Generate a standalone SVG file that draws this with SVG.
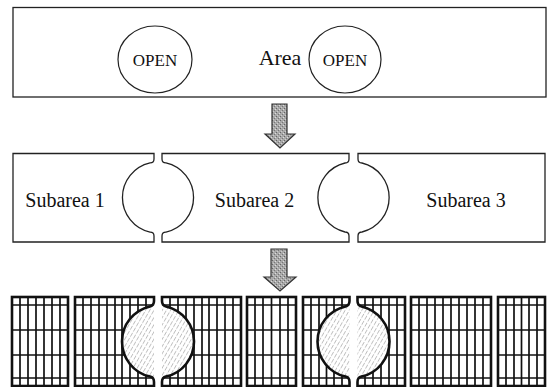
<svg xmlns="http://www.w3.org/2000/svg" width="552" height="387" viewBox="0 0 552 387">
<style>
.box{fill:#fff;stroke:#222;stroke-width:1.3}
.lbl{font-family:"Liberation Serif","Times New Roman",serif;fill:#111;text-anchor:middle}
.big{font-size:22px}
.sub{font-size:20px}
.open{font-size:17px}
.arrow{fill:url(#stip);stroke:#333;stroke-width:1.2}
.grid line{stroke:#111;stroke-width:1.7}
.panel{fill:none;stroke:#111;stroke-width:2.6}
.hat{fill:url(#hatch);stroke:none}
</style>
<defs>
<pattern id="hatch" width="3.6" height="6" patternUnits="userSpaceOnUse" patternTransform="rotate(30)">
<line x1="0" y1="0" x2="0" y2="4.5" stroke="#666" stroke-width="0.8"/>
</pattern>
<pattern id="stip" width="4" height="4" patternUnits="userSpaceOnUse">
<rect width="4" height="4" fill="#a8a8a8"/>
<rect x="0" y="0" width="1" height="1" fill="#666"/>
<rect x="2" y="2" width="1" height="1" fill="#777"/>
<rect x="3" y="1" width="1" height="1" fill="#ddd"/>
<rect x="1" y="3" width="1" height="1" fill="#ccc"/>
</pattern>
<clipPath id="c1"><rect x="12" y="297" width="56" height="89"/></clipPath>
<clipPath id="c2"><path d="M75,297 H154 V301 Q154,305.5 150,306.4 A36,36 0 0 0 150,376.6 Q154,377.5 154,382 V386 H75 Z"/></clipPath>
<clipPath id="c3"><path d="M162,297 H241 V386 H162 V382 Q162,377.5 166,376.6 A36,36 0 0 0 166,306.4 Q162,305.5 162,301 Z"/></clipPath>
<clipPath id="c4"><rect x="247" y="297" width="49" height="89"/></clipPath>
<clipPath id="c5"><path d="M303,297 H349.5 V301 Q349.5,305.5 345.5,306.4 A36,36 0 0 0 345.5,376.6 Q349.5,377.5 349.5,382 V386 H303 Z"/></clipPath>
<clipPath id="c6"><path d="M357.5,297 H405 V386 H357.5 V382 Q357.5,377.5 361.5,376.6 A36,36 0 0 0 361.5,306.4 Q357.5,305.5 357.5,301 Z"/></clipPath>
<clipPath id="c7"><rect x="411" y="297" width="80" height="89"/></clipPath>
<clipPath id="c8"><rect x="498" y="297" width="47" height="89"/></clipPath>
</defs>

<g id="area">
<rect class="box" x="13" y="7.5" width="533" height="89.5"/>
<ellipse cx="155" cy="59.5" rx="37" ry="33.5" fill="none" stroke="#222" stroke-width="1.2"/>
<text class="lbl open" x="155" y="65.5">OPEN</text>
<text class="lbl big" x="280" y="65">Area</text>
<ellipse cx="345" cy="59.5" rx="36" ry="33.5" fill="none" stroke="#222" stroke-width="1.2"/>
<text class="lbl open" x="345" y="65.5">OPEN</text>
</g>

<g id="subarea1">
<path class="box" d="M13,153.5 H154 V159 Q154,163 150,162.9 A35.5,35.5 0 0 0 150,232.1 Q154,232 154,236 V242 H13 Z"/>
<text class="lbl sub" x="65" y="207">Subarea 1</text>
</g>
<g id="subarea2">
<path class="box" d="M162,153.5 H349 V159 Q349,163 345,163 A35.5,35.5 0 0 0 345,232 Q349,232 349,236 V242 H162 V236 Q162,232 166,232.1 A35.5,35.5 0 0 0 166,162.9 Q162,163 162,159 Z"/>
<text class="lbl sub" x="254.5" y="207">Subarea 2</text>
</g>
<g id="subarea3">
<path class="box" d="M358,153.5 H545 V242 H358 V236 Q358,232 362,232 A35.5,35.5 0 0 0 362,163 Q358,163 358,159 Z"/>
<text class="lbl sub" x="466" y="207">Subarea 3</text>
</g>

<g id="connectors">
<polygon class="arrow" points="272,104 287,104 287,134 295,134 280,148 265,134 272,134"/>
<polygon class="arrow" points="271,249 287,249 287,277 296,277 280,291 264,277 271,277"/>
</g>

<g id="panel1">
<g class="grid" clip-path="url(#c1)">
<line x1="20" y1="297" x2="20" y2="386"/><line x1="28" y1="297" x2="28" y2="386"/><line x1="36" y1="297" x2="36" y2="386"/><line x1="44" y1="297" x2="44" y2="386"/><line x1="52" y1="297" x2="52" y2="386"/><line x1="60" y1="297" x2="60" y2="386"/>
<line x1="12" y1="305" x2="68" y2="305"/><line x1="12" y1="330" x2="68" y2="330"/><line x1="12" y1="355" x2="68" y2="355"/><line x1="12" y1="378" x2="68" y2="378"/>
</g>
<rect class="panel" x="12" y="297" width="56" height="89"/>
</g>

<g id="panel2">
<path class="hat" d="M154,305.7 A36,36 0 0 0 154,377.3 Z"/>
<g class="grid" clip-path="url(#c2)">
<line x1="83" y1="297" x2="83" y2="386"/><line x1="91" y1="297" x2="91" y2="386"/><line x1="99" y1="297" x2="99" y2="386"/><line x1="107" y1="297" x2="107" y2="386"/><line x1="115" y1="297" x2="115" y2="386"/><line x1="122" y1="297" x2="122" y2="386"/><line x1="130" y1="297" x2="130" y2="386"/><line x1="138" y1="297" x2="138" y2="386"/><line x1="146" y1="297" x2="146" y2="386"/>
<line x1="75" y1="305" x2="154" y2="305"/><line x1="75" y1="330" x2="154" y2="330"/><line x1="75" y1="355" x2="154" y2="355"/><line x1="75" y1="378" x2="154" y2="378"/>
</g>
<path class="panel" d="M75,297 H154 V301 Q154,305.5 150,306.4 A36,36 0 0 0 150,376.6 Q154,377.5 154,382 V386 H75 Z"/>
</g>

<g id="panel3">
<path class="hat" d="M162,377.3 A36,36 0 0 0 162,305.7 Z"/>
<g class="grid" clip-path="url(#c3)">
<line x1="170" y1="297" x2="170" y2="386"/><line x1="178" y1="297" x2="178" y2="386"/><line x1="186" y1="297" x2="186" y2="386"/><line x1="194" y1="297" x2="194" y2="386"/><line x1="202" y1="297" x2="202" y2="386"/><line x1="209" y1="297" x2="209" y2="386"/><line x1="217" y1="297" x2="217" y2="386"/><line x1="225" y1="297" x2="225" y2="386"/><line x1="233" y1="297" x2="233" y2="386"/>
<line x1="162" y1="305" x2="241" y2="305"/><line x1="162" y1="330" x2="241" y2="330"/><line x1="162" y1="355" x2="241" y2="355"/><line x1="162" y1="378" x2="241" y2="378"/>
</g>
<path class="panel" d="M162,297 H241 V386 H162 V382 Q162,377.5 166,376.6 A36,36 0 0 0 166,306.4 Q162,305.5 162,301 Z"/>
</g>

<g id="panel4">
<g class="grid" clip-path="url(#c4)">
<line x1="255" y1="297" x2="255" y2="386"/><line x1="263" y1="297" x2="263" y2="386"/><line x1="271.5" y1="297" x2="271.5" y2="386"/><line x1="280" y1="297" x2="280" y2="386"/><line x1="288" y1="297" x2="288" y2="386"/>
<line x1="247" y1="305" x2="296" y2="305"/><line x1="247" y1="330" x2="296" y2="330"/><line x1="247" y1="355" x2="296" y2="355"/><line x1="247" y1="378" x2="296" y2="378"/>
</g>
<rect class="panel" x="247" y="297" width="49" height="89"/>
</g>

<g id="panel5">
<path class="hat" d="M349.5,305.7 A36,36 0 0 0 349.5,377.3 Z"/>
<g class="grid" clip-path="url(#c5)">
<line x1="311" y1="297" x2="311" y2="386"/><line x1="319" y1="297" x2="319" y2="386"/><line x1="326.5" y1="297" x2="326.5" y2="386"/><line x1="334" y1="297" x2="334" y2="386"/><line x1="342" y1="297" x2="342" y2="386"/>
<line x1="303" y1="305" x2="350" y2="305"/><line x1="303" y1="330" x2="350" y2="330"/><line x1="303" y1="355" x2="350" y2="355"/><line x1="303" y1="378" x2="350" y2="378"/>
</g>
<path class="panel" d="M303,297 H349.5 V301 Q349.5,305.5 345.5,306.4 A36,36 0 0 0 345.5,376.6 Q349.5,377.5 349.5,382 V386 H303 Z"/>
</g>

<g id="panel6">
<path class="hat" d="M357.5,377.3 A36,36 0 0 0 357.5,305.7 Z"/>
<g class="grid" clip-path="url(#c6)">
<line x1="365" y1="297" x2="365" y2="386"/><line x1="373" y1="297" x2="373" y2="386"/><line x1="381" y1="297" x2="381" y2="386"/><line x1="389" y1="297" x2="389" y2="386"/><line x1="397" y1="297" x2="397" y2="386"/>
<line x1="357" y1="305" x2="405" y2="305"/><line x1="357" y1="330" x2="405" y2="330"/><line x1="357" y1="355" x2="405" y2="355"/><line x1="357" y1="378" x2="405" y2="378"/>
</g>
<path class="panel" d="M357.5,297 H405 V386 H357.5 V382 Q357.5,377.5 361.5,376.6 A36,36 0 0 0 361.5,306.4 Q357.5,305.5 357.5,301 Z"/>
</g>

<g id="panel7">
<g class="grid" clip-path="url(#c7)">
<line x1="419" y1="297" x2="419" y2="386"/><line x1="427" y1="297" x2="427" y2="386"/><line x1="435" y1="297" x2="435" y2="386"/><line x1="443" y1="297" x2="443" y2="386"/><line x1="451" y1="297" x2="451" y2="386"/><line x1="459" y1="297" x2="459" y2="386"/><line x1="467" y1="297" x2="467" y2="386"/><line x1="475" y1="297" x2="475" y2="386"/><line x1="483" y1="297" x2="483" y2="386"/>
<line x1="411" y1="305" x2="491" y2="305"/><line x1="411" y1="330" x2="491" y2="330"/><line x1="411" y1="355" x2="491" y2="355"/><line x1="411" y1="378" x2="491" y2="378"/>
</g>
<rect class="panel" x="411" y="297" width="80" height="89"/>
</g>

<g id="panel8">
<g class="grid" clip-path="url(#c8)">
<line x1="506" y1="297" x2="506" y2="386"/><line x1="514" y1="297" x2="514" y2="386"/><line x1="521.5" y1="297" x2="521.5" y2="386"/><line x1="529" y1="297" x2="529" y2="386"/><line x1="537" y1="297" x2="537" y2="386"/>
<line x1="498" y1="305" x2="545" y2="305"/><line x1="498" y1="330" x2="545" y2="330"/><line x1="498" y1="355" x2="545" y2="355"/><line x1="498" y1="378" x2="545" y2="378"/>
</g>
<rect class="panel" x="498" y="297" width="47" height="89"/>
</g>
</svg>
